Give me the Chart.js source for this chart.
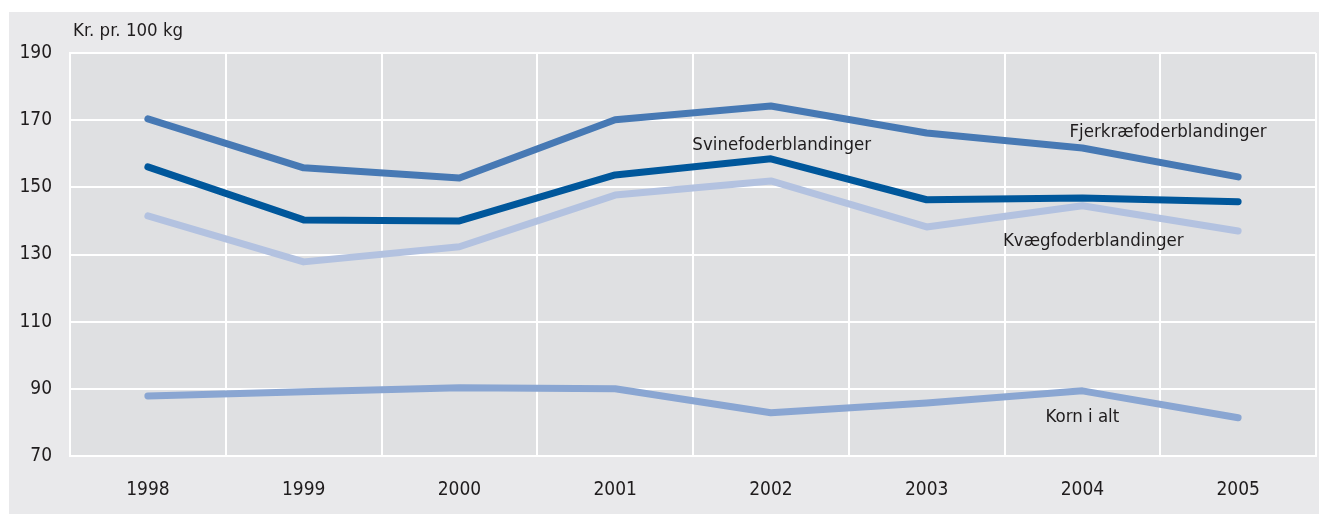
<!DOCTYPE html>
<html>
<head>
<meta charset="utf-8">
<script src="https://cdn.jsdelivr.net/npm/chart.js@4.4.1/dist/chart.umd.min.js"></script>
<style>
  html, body { margin: 0; padding: 0; background: #ffffff; }
  canvas { display: block; }
</style>
</head>
<body>
<canvas id="c" width="1319" height="514"></canvas>
<script>
const categories = ['1998', '1999', '2000', '2001', '2002', '2003', '2004', '2005'];
const fjerkraeValues = [170.4, 155.8, 152.8, 170.1, 174.2, 166.2, 161.7, 153.1];
const svineValues    = [156.1, 140.3, 140.0, 153.7, 158.5, 146.3, 146.8, 145.7];
const kvaegValues    = [141.5, 127.8, 132.3, 147.7, 151.9, 138.2, 144.5, 137.0];
const kornValues     = [87.9, 89.1, 90.3, 90.0, 82.9, 85.8, 89.4, 81.4];
const yTickValues = [70, 90, 110, 130, 150, 170, 190];
const seriesNames = ['Fjerkræfoderblandinger', 'Svinefoderblandinger', 'Kvægfoderblandinger', 'Korn i alt'];
const yAxisTitle = 'Kr. pr. 100 kg';
// label anchors: [category index, value]
const labelAnchors = [[6.55, 166.5], [4.07, 162.6], [6.07, 134.0], [6.0, 81.7]];

const FONT = "'DejaVu Sans Condensed', 'Open Sans', sans-serif";
const TEXT = '#1f1c1d';

const bgPlugin = {
  id: 'bg',
  beforeDraw(chart) {
    const ctx = chart.ctx, a = chart.chartArea;
    ctx.save();
    ctx.fillStyle = '#ffffff';
    ctx.fillRect(0, 0, chart.width, chart.height);
    ctx.fillStyle = '#e9e9eb';
    ctx.fillRect(9, 12, chart.width - 9, chart.height - 12);
    ctx.fillStyle = '#dfe0e2';
    ctx.fillRect(a.left, a.top, a.right - a.left, a.bottom - a.top);
    ctx.restore();
  },
  afterDatasetsDraw(chart) {
    const ctx = chart.ctx, a = chart.chartArea;
    const xs = chart.scales.x, ys = chart.scales.y;
    ctx.save();
    ctx.fillStyle = TEXT;
    ctx.font = '18.5px ' + FONT;
    ctx.textBaseline = 'middle';
    ctx.textAlign = 'center';
    seriesNames.forEach((name, i) => {
      const [ci, v] = labelAnchors[i];
      const x0 = xs.getPixelForValue(Math.floor(ci));
      const x1 = xs.getPixelForValue(Math.floor(ci) + 1);
      const x = x0 + (x1 - x0) * (ci - Math.floor(ci));
      ctx.fillText(name, x, ys.getPixelForValue(v));
    });
    ctx.textAlign = 'left';
    ctx.fillText(yAxisTitle, a.left + 3, 31);
    ctx.restore();
  }
};

const mk = (label, data, color) => ({
  label, data, borderColor: color, backgroundColor: color,
  borderWidth: 7, pointRadius: 0, tension: 0,
  borderCapStyle: 'round', borderJoinStyle: 'round', fill: false
});

new Chart(document.getElementById('c'), {
  type: 'line',
  data: {
    labels: categories,
    datasets: [
      mk(seriesNames[0], fjerkraeValues, '#4779b4'),
      mk(seriesNames[1], svineValues, '#00579b'),
      mk(seriesNames[2], kvaegValues, '#b3c2e0'),
      mk(seriesNames[3], kornValues, '#8aa6d2')
    ]
  },
  options: {
    responsive: false,
    animation: false,
    layout: { padding: { top: 53, right: 3, left: 0, bottom: 0 } },
    plugins: { legend: { display: false }, tooltip: { enabled: false } },
    scales: {
      x: {
        offset: true,
        grid: { offset: true, color: '#ffffff', lineWidth: 2, drawTicks: false },
        border: { color: '#ffffff', width: 2 },
        ticks: { padding: 23, color: TEXT, font: { family: FONT, size: 19 }, maxRotation: 0 },
        afterFit(s) { s.height = 58; }
      },
      y: {
        min: 70, max: 190,
        afterBuildTicks(s) { s.ticks = yTickValues.map(v => ({ value: v })); },
        grid: { color: '#ffffff', lineWidth: 2, drawTicks: false },
        border: { color: '#ffffff', width: 2 },
        ticks: { padding: 18, color: TEXT, font: { family: FONT, size: 19 } },
        afterFit(s) { s.width = 70; }
      }
    }
  },
  plugins: [bgPlugin]
});
</script>
</body>
</html>
